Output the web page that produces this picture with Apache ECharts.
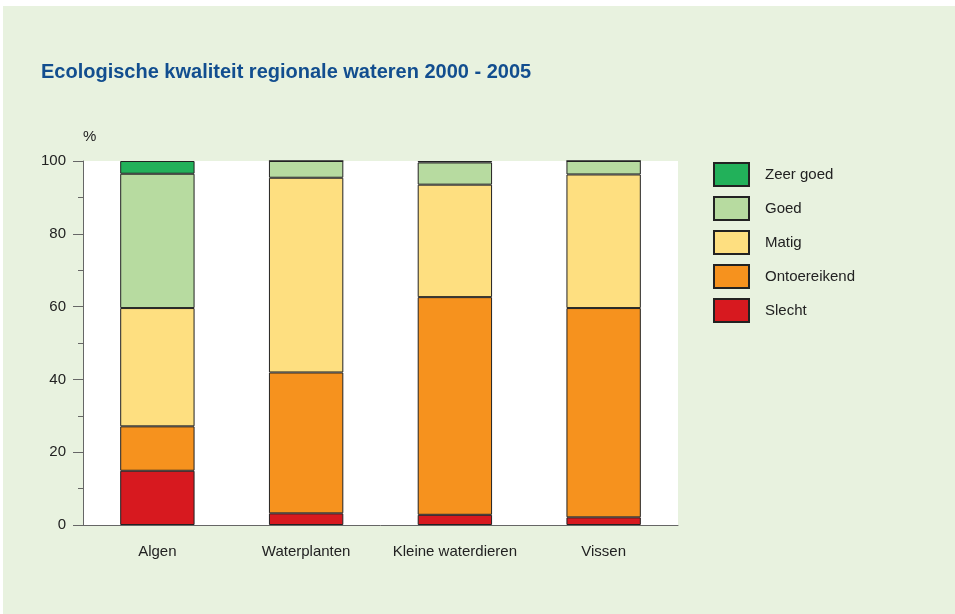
<!DOCTYPE html>
<html>
<head>
<meta charset="utf-8">
<script src="https://cdn.jsdelivr.net/npm/echarts@6/dist/echarts.min.js"></script>
<style>
  html, body { margin: 0; padding: 0; background: #fff; width: 955px; height: 614px; overflow: hidden; }
  #chart { position: absolute; left: 3px; top: 6px; width: 952px; height: 608px; }
</style>
</head>
<body>
<div id="chart"></div>
<script>
// categorieën en waarden (% per klasse, gestapeld van onder naar boven)
const categories = ['Algen', 'Waterplanten', 'Kleine waterdieren', 'Vissen']
const slecht = [14.9, 3.2, 2.8, 2.1]
const ontoereikend = [12.2, 38.7, 59.8, 57.5]
const matig = [32.5, 53.5, 30.9, 36.7]
const goed = [36.9, 4.6, 6.1, 3.7]
const zeerGoed = [3.5, 0, 0.4, 0]
const yTicks = [0, 20, 40, 60, 80, 100]

const chart = echarts.init(document.getElementById('chart'))

const font = 'Liberation Sans, Arial, sans-serif'

const makeSeries = (name, data, color) => ({
  name: name,
  type: 'bar',
  stack: 'total',
  barWidth: '50%',
  data: data,
  itemStyle: { color: color, borderColor: '#222', borderWidth: 1 },
  emphasis: { disabled: true }
})

const option = {
  backgroundColor: '#e8f2df',
  animation: false,
  title: {
    text: 'Ecologische kwaliteit regionale wateren 2000 - 2005',
    left: 33,
    top: 51,
    textStyle: {
      fontFamily: font,
      fontWeight: 'bold',
      fontSize: 20,
      color: '#124e8f'
    }
  },
  legend: {
    orient: 'vertical',
    left: 710,
    top: 156,
    padding: 0,
    itemWidth: 35,
    itemHeight: 23,
    itemGap: 9,
    icon: 'rect',
    data: ['Zeer goed', 'Goed', 'Matig', 'Ontoereikend', 'Slecht'],
    textStyle: { fontFamily: font, fontSize: 15, lineHeight: 18, color: '#222', padding: [0, 0, 0, 11] }
  },
  grid: {
    left: 80,
    top: 155,
    width: 595,
    height: 364,
    show: true,
    backgroundColor: '#fff',
    borderWidth: 0
  },
  xAxis: {
    type: 'category',
    data: categories,
    axisLine: { lineStyle: { color: '#666', width: 1 } },
    axisTick: { show: false },
    axisLabel: { interval: 0, fontFamily: font, fontSize: 15, color: '#222', margin: 19 }
  },
  yAxis: {
    type: 'value',
    min: 0,
    max: 100,
    interval: 20,
    name: '%',
    nameGap: 17,
    nameTextStyle: { fontFamily: font, fontSize: 15, color: '#222', align: 'left' },
    axisLine: { show: true, lineStyle: { color: '#666', width: 1 } },
    axisTick: { show: true, length: 10, lineStyle: { color: '#666' } },
    minorTick: { show: true, splitNumber: 2, length: 5, lineStyle: { color: '#666' } },
    splitLine: { show: false },
    axisLabel: {
      fontFamily: font, fontSize: 15, color: '#222', margin: 17,
      formatter: v => (yTicks.includes(v) ? String(v) : '')
    }
  },
  series: [
    makeSeries('Slecht', slecht, '#d7191f'),
    makeSeries('Ontoereikend', ontoereikend, '#f6921e'),
    makeSeries('Matig', matig, '#fedf80'),
    makeSeries('Goed', goed, '#b7dba0'),
    makeSeries('Zeer goed', zeerGoed, '#22b15a')
  ]
}

chart.setOption(option)
</script>
</body>
</html>
